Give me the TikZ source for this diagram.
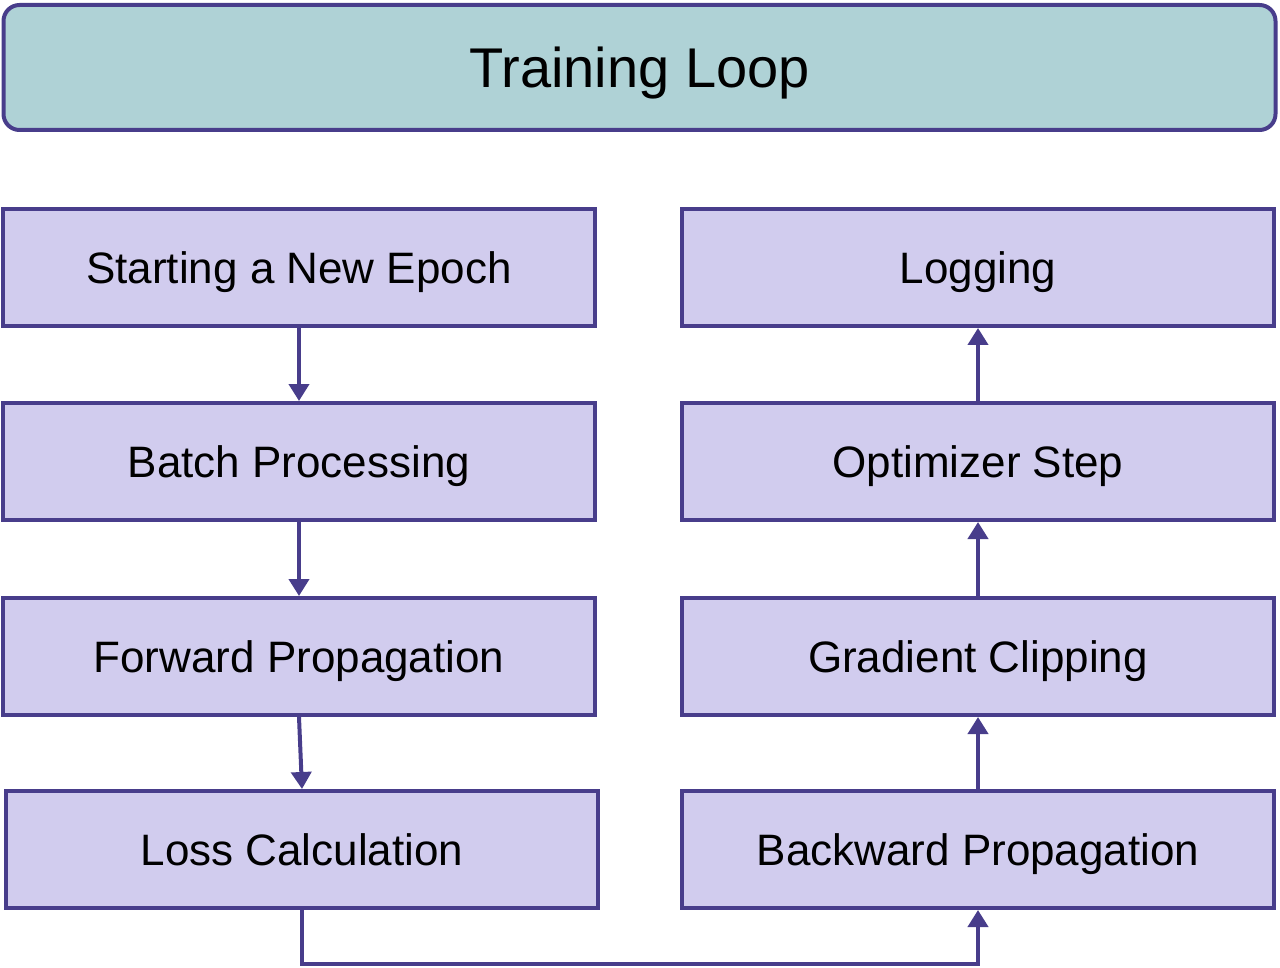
\documentclass[tikz,border=0pt]{standalone}
\usepackage{fontspec}
\setmainfont{Liberation Sans}
\usetikzlibrary{arrows.meta}
\definecolor{edge}{HTML}{483D8B}
\definecolor{boxfill}{HTML}{D1CCEE}
\definecolor{topfill}{HTML}{AFD2D6}
\tikzset{
  stepbox/.style={draw=edge, fill=boxfill, line width=4pt, minimum width=592pt, minimum height=117pt, inner sep=0pt, text height=31.5pt, text depth=0pt, font=\fontsize{44}{52}\selectfont},
  titlebox/.style={draw=edge, fill=topfill, line width=4pt, rounded corners=16pt, minimum width=1272pt, minimum height=125pt, inner sep=0pt, text height=40pt, text depth=0pt, font=\fontsize{56}{64}\selectfont},
  conn/.style={draw=edge, line width=4pt, -{Triangle[width=20pt,length=17pt]}}
}
\begin{document}
\begin{tikzpicture}[x=1pt,y=-1pt]
\useasboundingbox (0,0) rectangle (1280,968);
\node[titlebox] (title) at (639.5,67.5) {Training Loop};
\node[stepbox] (start) at (299,267.5) {Starting a New Epoch};
\node[stepbox] (batch) at (299,461.5) {Batch Processing};
\node[stepbox] (fwd) at (299,656.5) {Forward Propagation};
\node[stepbox] (loss) at (302,849.5) {Loss Calculation};
\node[stepbox] (log) at (978,267.5) {Logging};
\node[stepbox] (opt) at (978,461.5) {Optimizer Step};
\node[stepbox] (clip) at (978,656.5) {Gradient Clipping};
\node[stepbox] (back) at (978,849.5) {Backward Propagation};
\draw[conn] (start.south) -- (batch.north);
\draw[conn] (batch.south) -- (fwd.north);
\draw[conn] (fwd.south) -- (loss.north);
\draw[conn] (loss.south) -- ++(0,54) -| (back.south);
\draw[conn] (back.north) -- (clip.south);
\draw[conn] (clip.north) -- (opt.south);
\draw[conn] (opt.north) -- (log.south);
\end{tikzpicture}
\end{document}
